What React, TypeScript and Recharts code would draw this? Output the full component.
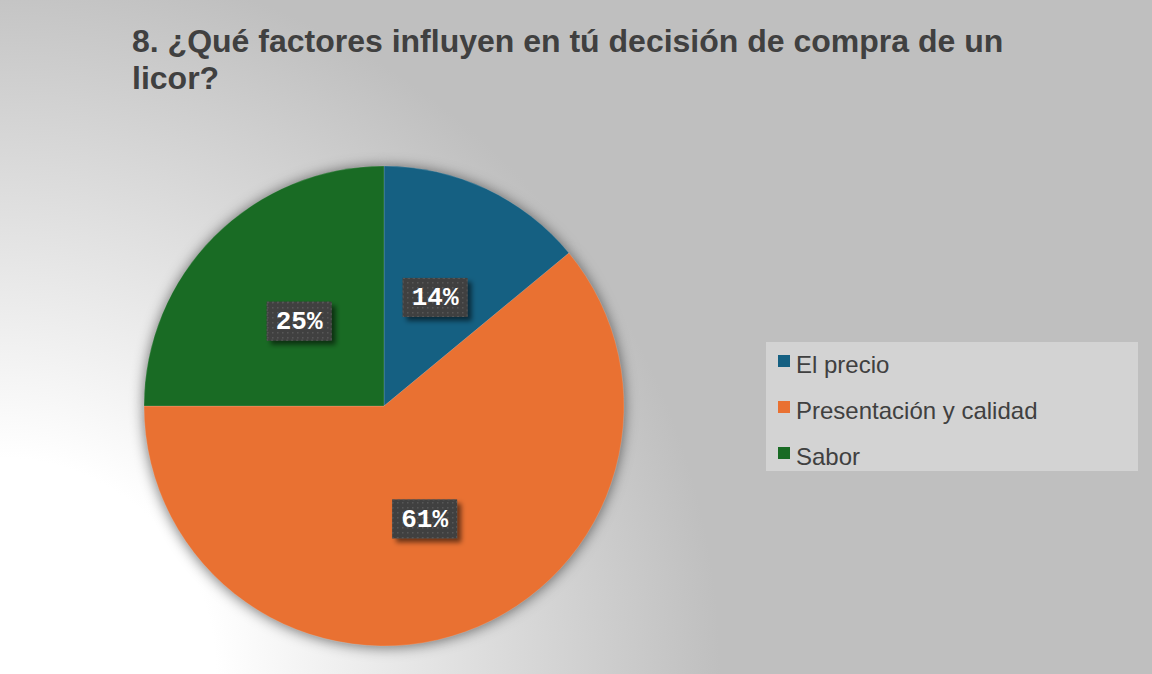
import React from 'react';
import { PieChart, Pie, Cell, Legend } from 'recharts';

const categories = ['El precio', 'Presentación y calidad', 'Sabor'];
const values = [14, 61, 25];
const colors = ['#156082', '#E97132', '#196B24'];
const titleLines = ['8. ¿Qué factores influyen en tú decisión de compra de un', 'licor?'];

const data = categories.map((name, i) => ({ name, value: values[i] }));

const RAD = Math.PI / 180;
const W = 1152;
const H = 674;

function renderLabel(props: any) {
  const { cx, cy, midAngle, outerRadius, percent } = props;
  const r = outerRadius * 0.5;
  const x = cx + r * Math.cos(-midAngle * RAD);
  const y = cy + r * Math.sin(-midAngle * RAD);
  const w = 65;
  const h = 39;
  return (
    <g>
      <rect x={x - w / 2} y={y - h / 2} width={w} height={h} fill="#404040" filter="url(#lblShadow)" />
      <rect x={x - w / 2 + 0.5} y={y - h / 2 + 0.5} width={w - 1} height={h - 1} fill="url(#dots)" stroke="#595959" strokeWidth={1} strokeDasharray="2 3" />
      <text
        x={x}
        y={y + 1}
        textAnchor="middle"
        dominantBaseline="central"
        fill="#ffffff"
        fontFamily="'Liberation Mono', 'DejaVu Sans Mono', monospace"
        fontWeight="bold"
        fontSize={26}
      >
        {`${Math.round(percent * 100)}%`}
      </text>
    </g>
  );
}

function LegendContent(props: any) {
  const payload = (props.payload || []).filter((p: any) => p.type !== 'none');
  return (
    <div
      style={{
        width: 372,
        height: 129,
        background: '#d3d3d3',
        boxSizing: 'border-box',
        fontFamily: "'Liberation Sans', Arial, sans-serif",
        fontSize: 24,
        color: '#404040',
        paddingTop: 1,
      }}
    >
      {payload.map((p: any, i: number) => (
        <div key={i} style={{ position: 'relative', height: 46, lineHeight: '44px', paddingLeft: 30, whiteSpace: 'nowrap' }}>
          <span style={{ position: 'absolute', left: 12, top: 12, width: 12, height: 12, background: p.color }} />
          {p.value}
        </div>
      ))}
    </div>
  );
}

export default function App() {
  return (
    <div
      style={{
        position: 'absolute',
        left: 0,
        top: 0,
        width: W,
        height: H,
        overflow: 'hidden',
        background: 'radial-gradient(circle 720px at 0px 674px, #ffffff 0%, #ffffff 30%, #bfbfbf 100%)',
      }}
    >
      <svg width={0} height={0} style={{ position: 'absolute' }}>
        <defs>
          <filter id="pieShadow" x="-20%" y="-20%" width="140%" height="140%">
            <feGaussianBlur stdDeviation="7" />
          </filter>
          <filter id="lblShadow" x="-30%" y="-30%" width="160%" height="160%">
            <feDropShadow dx="4" dy="4" stdDeviation="2.5" floodColor="#000" floodOpacity="0.55" />
          </filter>
          <pattern id="dots" x="0" y="0" width="5" height="5" patternUnits="userSpaceOnUse">
            <rect x="2" y="2" width="1.5" height="1.5" fill="#575757" />
          </pattern>
        </defs>
      </svg>
      <div
        style={{
          position: 'absolute',
          left: 132,
          top: 23,
          fontFamily: "'Liberation Sans', Arial, sans-serif",
          fontWeight: 'bold',
          fontSize: 32,
          lineHeight: '37px',
          color: '#404040',
          whiteSpace: 'nowrap',
        }}
      >
        {titleLines.map((t, i) => (
          <div key={i}>{t}</div>
        ))}
      </div>
      <div style={{ position: 'absolute', left: 0, top: 0 }}>
        <PieChart width={W} height={H} margin={{ top: 0, right: 0, bottom: 0, left: 0 }}>
          <Pie
            data={data}
            dataKey="value"
            nameKey="name"
            cx={384}
            cy={407}
            outerRadius={240}
            startAngle={90}
            endAngle={-270}
            stroke="none"
            isAnimationActive={false}
            legendType="none"
            label={false}
            labelLine={false}
          >
            {data.map((d, i) => (
              <Cell key={i} fill="#000000" fillOpacity={0.55} filter="url(#pieShadow)" />
            ))}
          </Pie>
          <Pie
            data={data}
            dataKey="value"
            nameKey="name"
            cx={384}
            cy={406}
            outerRadius={240}
            startAngle={90}
            endAngle={-270}
            stroke="#ffffff"
            strokeWidth={0.5}
            strokeOpacity={0.3}
            isAnimationActive={false}
            label={renderLabel}
            labelLine={false}
            legendType="square"
          >
            {data.map((d, i) => (
              <Cell key={i} fill={colors[i]} />
            ))}
          </Pie>
          <Legend
            layout="vertical"
            align="right"
            verticalAlign="middle"
            content={<LegendContent />}
            wrapperStyle={{ position: 'absolute', left: 766, top: 342, width: 372, height: 129, right: 'auto', bottom: 'auto' }}
          />
        </PieChart>
      </div>
    </div>
  );
}
